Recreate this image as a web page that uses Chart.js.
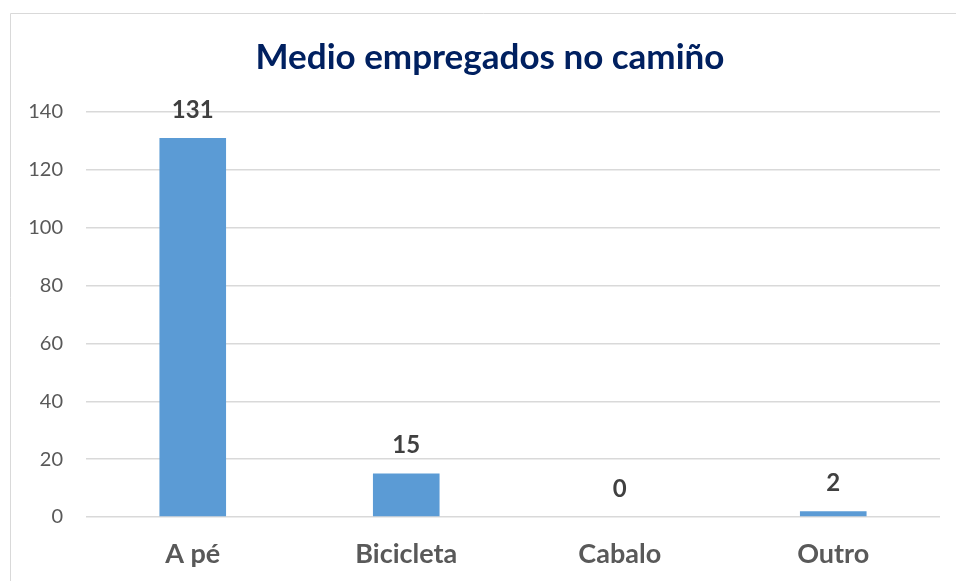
<!DOCTYPE html>
<html>
<head>
<meta charset="utf-8">
<script src="https://cdn.jsdelivr.net/npm/chart.js@4"></script>
<style>
html,body{margin:0;padding:0;background:#fff;overflow:hidden;}
#wrap{width:956px;height:581px;position:relative;}
</style>
</head>
<body>
<div id="wrap"><canvas id="chart"></canvas></div>
<script>
// data
const categories=["A pé","Bicicleta","Cabalo","Outro"];
const values=[131,15,0,2];
const yTicks=[0,20,40,60,80,100,120,140];

const titleText="Medio empregados no camiño";

// outer frame of the chart object (cut by the window on right and bottom)
const framePlugin={
id:"frame",
beforeDraw(chart){
const ctx=chart.ctx;
ctx.save();
ctx.strokeStyle="#d9d9d9";
ctx.lineWidth=1;
ctx.beginPath();
ctx.moveTo(10.5,chart.height);
ctx.lineTo(10.5,13.5);
ctx.lineTo(chart.width,13.5);
ctx.stroke();
ctx.restore();
}
};

// title, centred on the frame rather than on the canvas
const titlePlugin={
id:"titleText",
afterDraw(chart){
const ctx=chart.ctx;
ctx.save();
ctx.font="bold 35px Lato";
ctx.fillStyle="#002060";
ctx.textAlign="center";
ctx.textBaseline="middle";
ctx.fillText(titleText,490,58);
ctx.restore();
}
};

// bold value labels above each bar
const valueLabels={
id:"valueLabels",
afterDatasetsDraw(chart){
const ctx=chart.ctx;
const meta=chart.getDatasetMeta(0);
ctx.save();
ctx.font="bold 24px Lato";
ctx.fillStyle="#404040";
ctx.textAlign="center";
ctx.textBaseline="middle";
meta.data.forEach((bar,i)=>{
ctx.fillText(String(values[i]),bar.x,bar.y-28);
});
ctx.restore();
}
};

new Chart(document.getElementById("chart"),{
type:"bar",
data:{
labels:categories,
datasets:[{
data:values,
backgroundColor:"#5b9bd5",
barPercentage:0.312,
categoryPercentage:1
}]
},
options:{
responsive:true,
maintainAspectRatio:false,
animation:false,
layout:{padding:{left:0,right:16,top:112,bottom:0}},
plugins:{
legend:{display:false},
tooltip:{enabled:false},
title:{display:false}
},
scales:{
x:{
grid:{display:false,drawTicks:false},
border:{display:false},
ticks:{
color:"#595959",
font:{family:"Lato",size:27,weight:"bold"},
padding:21
},
afterFit(scale){scale.height=64;}
},
y:{
min:0,
max:140,
afterBuildTicks(scale){scale.ticks=yTicks.map(v=>({value:v}));},
grid:{color:"#d9d9d9",lineWidth:1.5,drawTicks:false},
border:{display:false},
ticks:{
color:"#595959",
font:{family:"Lato",size:20},
padding:23
},
afterFit(scale){scale.width=86;}
}
}
},
plugins:[framePlugin,titlePlugin,valueLabels]
});
</script>
</body>
</html>
